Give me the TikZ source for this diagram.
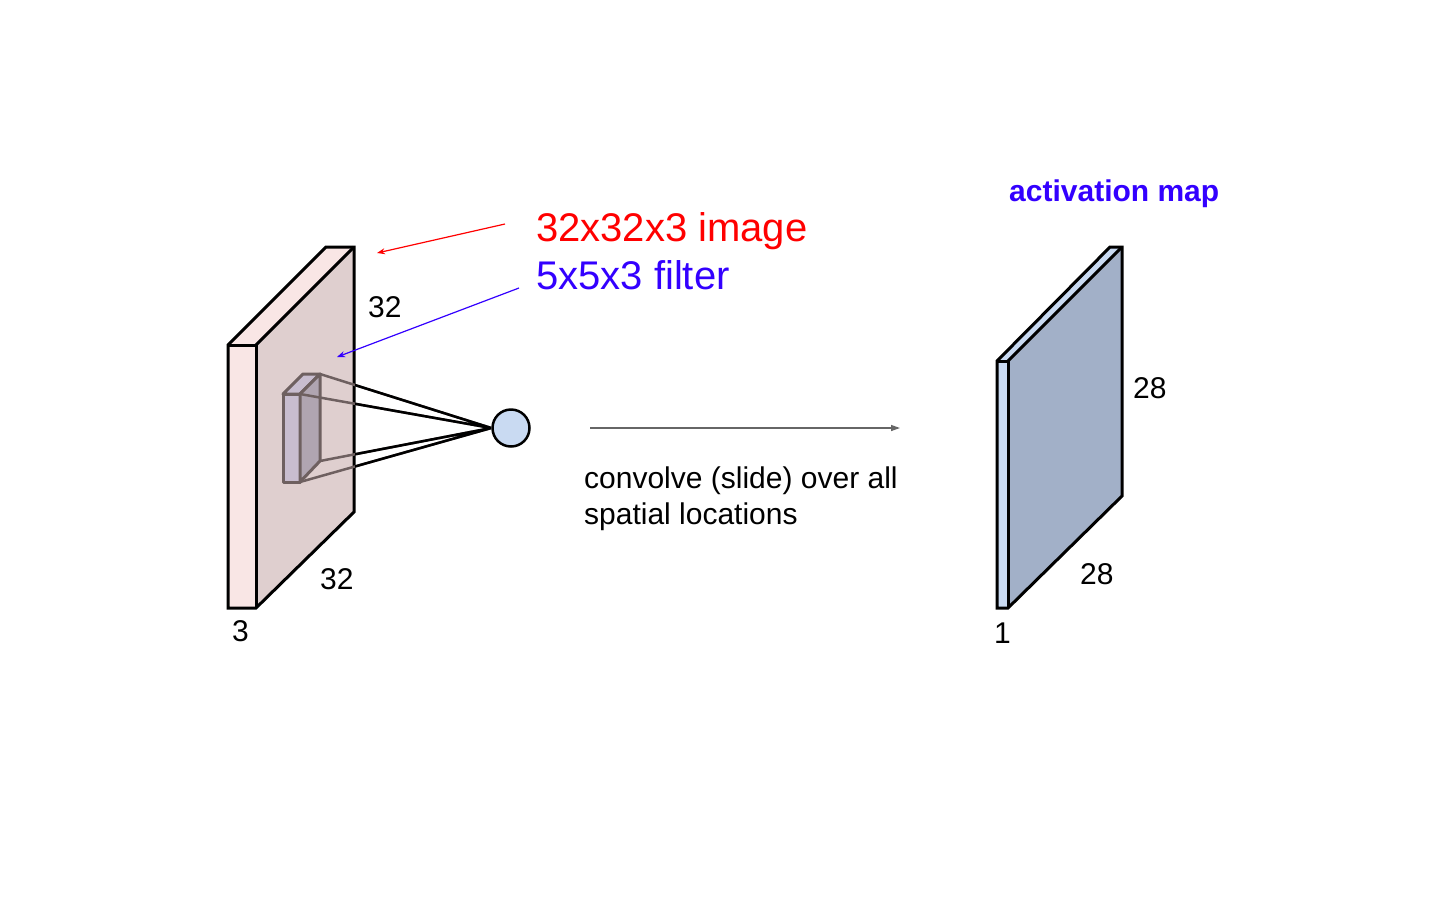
\documentclass[tikz,border=0pt]{standalone}
\usepackage{fontspec}
\setmainfont{Liberation Sans}
\usetikzlibrary{arrows.meta}
\definecolor{pinkA}{HTML}{F9E6E5}
\definecolor{pinkB}{HTML}{DFCFCF}
\definecolor{filtA}{HTML}{C8BDCF}
\definecolor{filtB}{HTML}{B0A5B1}
\definecolor{filtE}{HTML}{6E6060}
\definecolor{blueA}{HTML}{C9DAF2}
\definecolor{blueB}{HTML}{A2B0C8}
\definecolor{myred}{HTML}{FF0000}
\definecolor{myblue}{HTML}{3300FF}
\definecolor{arrgray}{HTML}{666666}
\tikzset{
  face/.style={draw=black,line width=3pt,line join=miter},
  fface/.style={draw=filtE,line width=3pt,line join=round},
  big/.style={inner sep=0pt,font=\fontsize{40}{48}\selectfont},
  mid/.style={inner sep=0pt,font=\fontsize{30}{36}\selectfont},
  conn/.style={line width=2.5pt},
  pointer/.style={line width=1.2pt,-{Stealth[length=8pt,width=6pt]}}
}
\begin{document}
\begin{tikzpicture}[x=1pt,y=-1pt]
\useasboundingbox (0,0) rectangle (1440,900);
% input volume
\coordinate (a1) at (228,345); \coordinate (a2) at (256,345);
\coordinate (a3) at (354,247); \coordinate (a4) at (326,247);
\coordinate (a5) at (228,608); \coordinate (a6) at (256,608);
\coordinate (a7) at (354,512);
\fill[pinkA] (a1) -- (a2) -- (a6) -- (a5) -- cycle;
\fill[pinkA] (a1) -- (a2) -- (a3) -- (a4) -- cycle;
\fill[pinkB] (a2) -- (a3) -- (a7) -- (a6) -- cycle;
\draw[face] (a1) -- (a4) -- (a3) -- (a7) -- (a6) -- (a5) -- cycle;
\draw[face] (a1) -- (a2) -- (a6);
\draw[face] (a2) -- (a3);
% filter
\coordinate (f1) at (283,394); \coordinate (f2) at (300,394);
\coordinate (f3) at (320,374); \coordinate (f4) at (303,374);
\coordinate (f5) at (283,482); \coordinate (f6) at (300,482);
\coordinate (f7) at (320,461);
\filldraw[fface,fill=filtA] (f1) -- (f2) -- (f6) -- (f5) -- cycle;
\filldraw[fface,fill=filtA] (f1) -- (f2) -- (f3) -- (f4) -- cycle;
\filldraw[fface,fill=filtB] (f2) -- (f3) -- (f7) -- (f6) -- cycle;
% neuron
\node[circle,draw=black,line width=2.5pt,fill=blueA,minimum size=37pt,inner sep=0pt] (n) at (511,428) {};
\draw[conn,filtE] (f3) -- (n.west) (f2) -- (n.west) (f7) -- (n.west) (f6) -- (n.west);
\begin{scope}
\clip (355,300) rectangle (520,520);
\draw[conn,black] (f3) -- (n.west) (f2) -- (n.west) (f7) -- (n.west) (f6) -- (n.west);
\end{scope}
% activation map
\coordinate (b1) at (997,361); \coordinate (b2) at (1008,361);
\coordinate (b3) at (1122,247); \coordinate (b4) at (1110,247);
\coordinate (b5) at (997,608); \coordinate (b6) at (1008,608);
\coordinate (b7) at (1122,496);
\fill[blueA] (b1) -- (b2) -- (b6) -- (b5) -- cycle;
\fill[blueA] (b1) -- (b2) -- (b3) -- (b4) -- cycle;
\fill[blueB] (b2) -- (b3) -- (b7) -- (b6) -- cycle;
\draw[face] (b1) -- (b4) -- (b3) -- (b7) -- (b6) -- (b5) -- cycle;
\draw[face] (b1) -- (b2) -- (b6);
\draw[face] (b2) -- (b3);
% labels
\node[big,anchor=base west,text=myred] (timg) at (536,241) {32x32x3 image};
\node[big,anchor=base west,text=myblue] (tfil) at (536,289) {5x5x3 filter};
\coordinate (rs) at (505,224); \coordinate (re) at (377,253);
\coordinate (bs) at (519,288); \coordinate (be) at (337,357);
\draw[pointer,myred] (rs) -- (re);
\draw[pointer,myblue] (bs) -- (be);
\node[mid,anchor=base west] (l32a) at (368,317) {32};
\node[mid,anchor=base west] (l32b) at (320,589) {32};
\node[mid,anchor=base west] (l3) at (232,641) {3};
\node[mid,anchor=base west] (l28a) at (1133,398) {28};
\node[mid,anchor=base west] (l28b) at (1080,584) {28};
\node[mid,anchor=base west] (l1) at (994,643) {1};
\node[mid,anchor=base west,text=myblue,font=\fontsize{30}{36}\selectfont\bfseries] (tact) at (1009,201) {activation map};
% convolve arrow
\coordinate (cs) at (590,428); \coordinate (ce) at (900,428);
\draw[arrgray,line width=1.3pt,-{Triangle[length=9pt,width=6pt]}] (cs) -- (ce);
\node[mid,anchor=base west] (c1) at (584,488) {convolve (slide) over all};
\node[mid,anchor=base west] (c2) at (584,524) {spatial locations};
\end{tikzpicture}
\end{document}
